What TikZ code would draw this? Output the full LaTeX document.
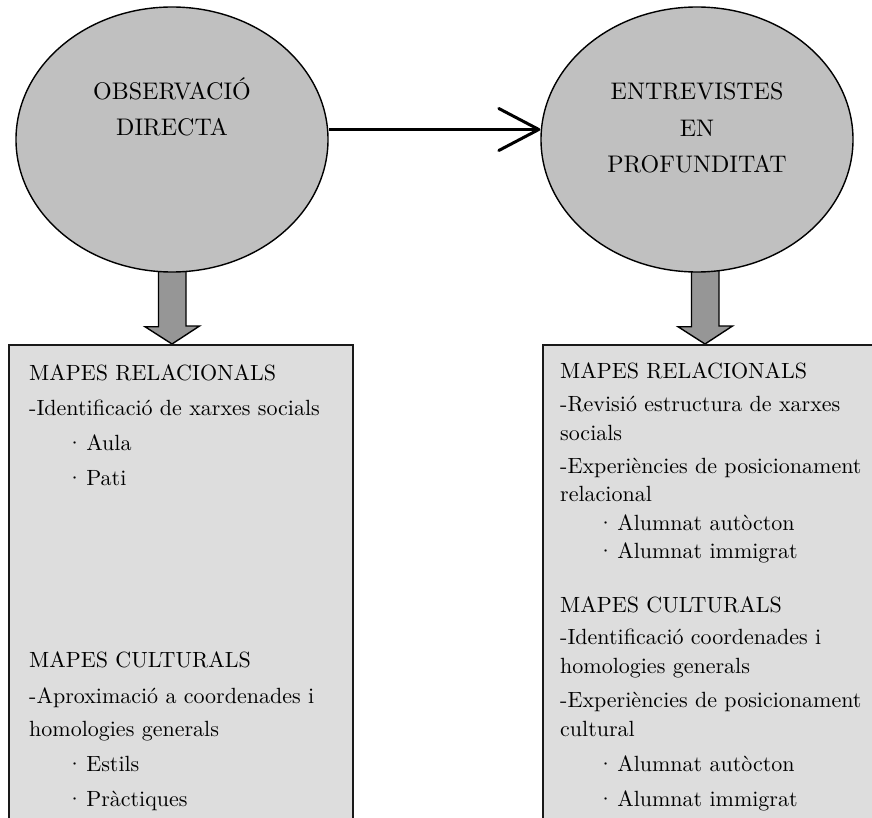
\documentclass[tikz,border=0pt]{standalone}
\usepackage{fontspec}
\setmainfont{lmroman10-regular.otf}
\usepackage{tikz}
\usetikzlibrary{positioning,arrows.meta,backgrounds,shapes.geometric}

\definecolor{ovalgray}{HTML}{C0C0C0}
\definecolor{boxgray}{HTML}{DDDDDD}
\definecolor{arrowgray}{HTML}{969696}

\newcommand{\bul}[1]{\hspace*{37pt}·\hspace{3pt}#1}

\begin{document}
\begin{tikzpicture}[
        x=1pt, y=-1pt,
        % Styles
        method/.style={ellipse, draw=black, line width=1.4pt, fill=ovalgray, minimum width=312pt, minimum height=265pt, inner sep=0pt},
        methodtitle/.style={font=\fontsize{24}{36.5}\selectfont, align=center, inner sep=0pt, anchor=north},
        mapbox/.style={draw=black!90, line width=1.6pt, fill=boxgray, anchor=north west, minimum height=520pt, inner sep=0pt},
        maptext/.style={font=\fontsize{22}{29}\selectfont, align=left, anchor=north west, inner sep=0pt},
        flow/.style={line width=3pt, -{Straight Barb[length=40pt, width=42pt, round]}},
        downarrow/.style={draw=black, line width=1.4pt, fill=arrowgray, line join=miter}
    ]
    \path[use as bounding box, clip] (0,0) rectangle (872,818);

    % ================= METHODS =================
    \node[method] (obs) at (172,139.5) {};
    \node[method] (ent) at (697,139.5) {};
    \node[methodtitle] (obstitle) at (172,77) {OBSERVACIÓ\\DIRECTA};
    \node[methodtitle] (enttitle) at (697,82.5) {ENTREVISTES\\EN\\PROFUNDITAT};

    \draw[flow] ([yshift=10pt]obs.east) -- ([yshift=10pt]ent.west);

    % ================= MAP BOXES =================
    \node[mapbox, minimum width=344pt] (lbox) at (8,344) {};
    \node[mapbox, minimum width=360pt] (rbox) at (542,344) {};

    % block arrows, under the ovals
    \coordinate (ltip) at (obs.south |- lbox.north);
    \coordinate (rtip) at ([xshift=8pt]ent.south |- rbox.north);
    \begin{scope}[on background layer]
        \filldraw[downarrow] ([xshift=-13.5pt, yshift=4pt]obs.south) -- ++(0,58) -- ++(-13.5,0)
            -- (ltip) -- ++(27.5,-18) -- ++(-13.5,0) -- ++(0,-58);
        \filldraw[downarrow] ([xshift=-5.5pt, yshift=4pt]ent.south) -- ++(0,58) -- ++(-13.5,0)
            -- (rtip) -- ++(27.5,-18) -- ++(-13.5,0) -- ++(0,-58);
    \end{scope}

    % ================= BOX TEXTS =================
    \node[maptext] (lrel) at (29,365) {MAPES RELACIONALS\\[6pt]
        -Identificació de xarxes socials\\[6pt]
        \bul{Aula}\\[6pt]
        \bul{Pati}};
    \node[maptext] (lcult) at (29,652) {MAPES CULTURALS\\[7pt]
        -Aproximació a coordenades i\\[4pt]
        homologies generals\\[6pt]
        \bul{Estils}\\[6pt]
        \bul{Pràctiques}};

    \node[maptext] (rrel) at (560,363) {MAPES RELACIONALS\\[4pt]
        -Revisió estructura de xarxes\\
        socials\\[4pt]
        -Experiències de posicionament\\[-1pt]
        relacional\\
        \bul{Alumnat autòcton}\\[-1pt]
        \bul{Alumnat immigrat}};
    \node[maptext] (rcult) at (560,597) {MAPES CULTURALS\\[3pt]
        -Identificació coordenades i\\
        homologies generals\\[5pt]
        -Experiències de posicionament\\
        cultural\\[6pt]
        \bul{Alumnat autòcton}\\[6pt]
        \bul{Alumnat immigrat}};

\end{tikzpicture}
\end{document}
